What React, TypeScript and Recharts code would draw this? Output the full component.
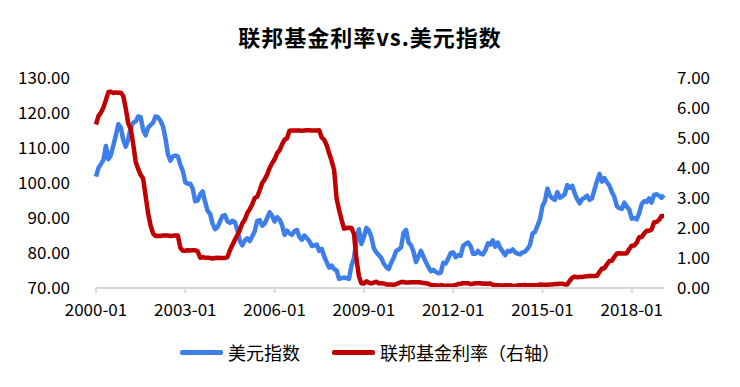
import React from 'react';
import { LineChart, Line, XAxis, YAxis, Legend } from 'recharts';

// monthly, 2000-01 .. 2019-02
const dollarIndex = [
  // 2000
  101.8, 104.3, 105.4, 106.6, 110.6, 106.8, 108.0, 110.8, 113.6, 116.8, 115.9, 112.3,
  // 2001
  110.4, 112.5, 115.8, 117.2, 117.6, 119.0, 118.8, 115.2, 113.6, 115.8, 116.6, 117.2,
  // 2002
  119.0, 118.8, 117.8, 116.2, 112.8, 108.2, 106.4, 107.6, 107.8, 107.6, 105.2, 103.4,
  // 2003
  100.2, 99.8, 99.8, 98.4, 94.8, 95.0, 96.8, 97.6, 94.6, 92.0, 91.2, 88.4,
  // 2004
  86.8, 87.4, 89.0, 90.6, 90.8, 89.0, 88.6, 89.2, 88.8, 86.6, 83.4, 82.2,
  // 2005
  83.6, 84.2, 83.4, 84.8, 86.2, 89.2, 89.4, 87.8, 88.4, 90.0, 91.6, 90.6,
  // 2006
  89.0, 90.2, 89.6, 88.0, 85.2, 86.4, 85.6, 85.2, 86.2, 86.6, 84.6, 83.8,
  // 2007
  85.0, 84.2, 83.4, 82.0, 82.2, 82.4, 80.6, 81.2, 79.0, 77.4, 75.8, 76.4,
  // 2008
  75.4, 75.0, 72.6, 72.8, 73.0, 72.8, 72.6, 76.4, 78.6, 83.6, 86.8, 82.6,
  // 2009
  84.6, 87.2, 86.4, 84.6, 81.4, 80.2, 79.4, 78.6, 77.0, 76.0, 75.4, 77.2,
  // 2010
  78.6, 80.6, 81.0, 81.6, 85.8, 86.6, 83.0, 82.2, 80.4, 77.4, 79.0, 80.6,
  // 2011
  79.0, 77.4, 76.0, 74.8, 75.2, 74.6, 74.2, 74.4, 77.2, 77.0, 78.4, 80.0,
  // 2012
  80.2, 78.8, 79.4, 79.2, 82.0, 82.6, 83.0, 82.0, 79.8, 79.8, 80.6, 79.8,
  // 2013
  79.6, 80.8, 82.8, 82.4, 83.6, 81.8, 83.0, 81.4, 80.4, 79.4, 80.6, 80.4,
  // 2014
  81.0, 80.2, 79.8, 79.6, 80.2, 80.4, 81.2, 82.4, 85.6, 86.0, 87.8, 89.6,
  // 2015
  93.4, 94.8, 98.4, 96.4, 95.6, 95.2, 97.4, 95.8, 96.2, 96.8, 99.4, 98.6,
  // 2016
  99.2, 97.0, 95.4, 94.2, 95.4, 95.8, 96.4, 95.2, 95.6, 98.2, 100.6, 102.6,
  // 2017
  100.4, 101.4, 100.2, 99.2, 97.4, 96.0, 93.4, 92.8, 92.6, 94.4, 93.2, 92.4,
  // 2018
  89.8, 90.0, 89.6, 91.4, 94.0, 94.8, 94.6, 95.6, 94.4, 96.6, 96.8, 96.4,
  // 2019
  95.8, 96.6,
];

const fedFunds = [
  // 2000
  5.45, 5.73, 5.85, 6.02, 6.27, 6.53, 6.54, 6.50, 6.52, 6.51, 6.51, 6.40,
  // 2001
  5.98, 5.49, 5.31, 4.80, 4.21, 3.97, 3.77, 3.65, 3.07, 2.49, 2.09, 1.82,
  // 2002
  1.73, 1.74, 1.73, 1.75, 1.75, 1.75, 1.73, 1.74, 1.75, 1.75, 1.34, 1.24,
  // 2003
  1.24, 1.26, 1.25, 1.26, 1.26, 1.22, 1.01, 1.03, 1.01, 1.01, 1.00, 0.98,
  // 2004
  1.00, 1.01, 1.00, 1.00, 1.00, 1.03, 1.26, 1.43, 1.61, 1.76, 1.93, 2.16,
  // 2005
  2.28, 2.50, 2.63, 2.79, 3.00, 3.04, 3.26, 3.50, 3.62, 3.78, 4.00, 4.16,
  // 2006
  4.29, 4.49, 4.59, 4.79, 4.94, 4.99, 5.24, 5.25, 5.25, 5.25, 5.25, 5.24,
  // 2007
  5.25, 5.26, 5.26, 5.25, 5.25, 5.25, 5.26, 5.02, 4.94, 4.76, 4.49, 4.24,
  // 2008
  3.94, 2.98, 2.61, 2.28, 1.98, 2.00, 2.01, 2.00, 1.81, 0.97, 0.39, 0.16,
  // 2009
  0.15, 0.22, 0.18, 0.15, 0.18, 0.21, 0.16, 0.16, 0.15, 0.12, 0.12, 0.12,
  // 2010
  0.11, 0.13, 0.16, 0.20, 0.20, 0.18, 0.18, 0.19, 0.19, 0.19, 0.19, 0.18,
  // 2011
  0.17, 0.16, 0.14, 0.10, 0.09, 0.09, 0.07, 0.10, 0.08, 0.07, 0.08, 0.07,
  // 2012
  0.08, 0.10, 0.13, 0.14, 0.16, 0.16, 0.16, 0.13, 0.14, 0.16, 0.16, 0.16,
  // 2013
  0.14, 0.15, 0.14, 0.15, 0.11, 0.09, 0.09, 0.08, 0.08, 0.09, 0.08, 0.09,
  // 2014
  0.07, 0.07, 0.08, 0.09, 0.09, 0.10, 0.09, 0.09, 0.09, 0.09, 0.09, 0.12,
  // 2015
  0.11, 0.11, 0.11, 0.12, 0.12, 0.13, 0.13, 0.14, 0.14, 0.12, 0.12, 0.24,
  // 2016
  0.34, 0.38, 0.36, 0.37, 0.37, 0.38, 0.39, 0.40, 0.40, 0.40, 0.41, 0.54,
  // 2017
  0.65, 0.66, 0.79, 0.90, 0.91, 1.04, 1.15, 1.16, 1.15, 1.15, 1.16, 1.30,
  // 2018
  1.41, 1.42, 1.51, 1.69, 1.70, 1.82, 1.91, 1.91, 1.95, 2.19, 2.20, 2.27,
  // 2019
  2.40, 2.40,
];

const startYear = 2000;
const months = dollarIndex.map((_, i) => {
  const y = startYear + Math.floor(i / 12);
  const m = (i % 12) + 1;
  return `${y}-${m < 10 ? '0' + m : m}`;
});

const xTicks = [0, 36, 72, 108, 144, 180, 216];
const leftTicks = [70, 80, 90, 100, 110, 120, 130];
const rightTicks = [0, 1, 2, 3, 4, 5, 6, 7];

const title = '联邦基金利率vs.美元指数';
const usdName = '美元指数';
const fedName = '联邦基金利率（右轴）';

const BLUE = '#3d7ee9';
const RED = '#c00000';
const FONT = '"Noto Sans CJK SC", "Noto Sans", sans-serif';

const data = months.map((month, i) => ({
  idx: i,
  month,
  usd: dollarIndex[i],
  fed: fedFunds[i],
}));

function LegendContent() {
  const item = (color: string, label: string, gap: number) => (
    <div style={{ display: 'flex', alignItems: 'center', marginRight: gap }}>
      <div style={{ width: 43, height: 5, background: color, borderRadius: 2, marginRight: 5 }} />
      <span>{label}</span>
    </div>
  );
  return (
    <div
      style={{
        display: 'flex',
        justifyContent: 'center',
        alignItems: 'center',
        paddingTop: 24,
        fontFamily: FONT,
        fontSize: 18,
        color: '#000',
        lineHeight: '20px',
      }}
    >
      {item(BLUE, usdName, 32)}
      {item(RED, fedName, 0)}
    </div>
  );
}

export default function App() {
  const tickStyle = { fontSize: 17, fill: '#000', fontFamily: FONT };
  return (
    <div style={{ position: 'absolute', left: 0, top: 0, width: 740, height: 387, background: '#fff' }}>
      <div
        style={{
          position: 'absolute',
          top: 22,
          left: 0,
          width: 740,
          textAlign: 'center',
          fontFamily: FONT,
          fontWeight: 700,
          fontSize: 22,
          lineHeight: '28px',
          color: '#000',
          letterSpacing: 1,
        }}
      >
        {title}
      </div>
      <LineChart width={740} height={387} data={data} margin={{ top: 78, right: 0, bottom: 19, left: 0 }}>
        <XAxis
          dataKey="idx"
          type="number"
          domain={[0, dollarIndex.length - 1]}
          ticks={xTicks}
          tickFormatter={(i: number) => months[i]}
          height={30}
          tickSize={5}
          tickMargin={11}
          axisLine={{ stroke: '#d9d9d9', strokeWidth: 2 }}
          tickLine={{ stroke: '#d9d9d9', strokeWidth: 2 }}
          tick={tickStyle}
          interval={0}
        />
        <YAxis
          yAxisId="left"
          domain={[70, 130]}
          ticks={leftTicks}
          tickFormatter={(v: number) => v.toFixed(2)}
          width={96}
          axisLine={false}
          tickLine={false}
          tickMargin={20}
          tick={tickStyle}
          interval={0}
        />
        <YAxis
          yAxisId="right"
          orientation="right"
          domain={[0, 7]}
          ticks={rightTicks}
          tickFormatter={(v: number) => v.toFixed(2)}
          width={76}
          axisLine={false}
          tickLine={false}
          tickMargin={7}
          tick={tickStyle}
          interval={0}
        />
        <Legend verticalAlign="bottom" height={50} content={<LegendContent />} />
        <Line
          yAxisId="left"
          type="linear"
          dataKey="usd"
          name={usdName}
          stroke={BLUE}
          strokeWidth={4.5}
          strokeLinejoin="round"
          dot={false}
          isAnimationActive={false}
        />
        <Line
          yAxisId="right"
          type="linear"
          dataKey="fed"
          name={fedName}
          stroke={RED}
          strokeWidth={4.5}
          strokeLinejoin="round"
          dot={false}
          isAnimationActive={false}
        />
      </LineChart>
    </div>
  );
}
